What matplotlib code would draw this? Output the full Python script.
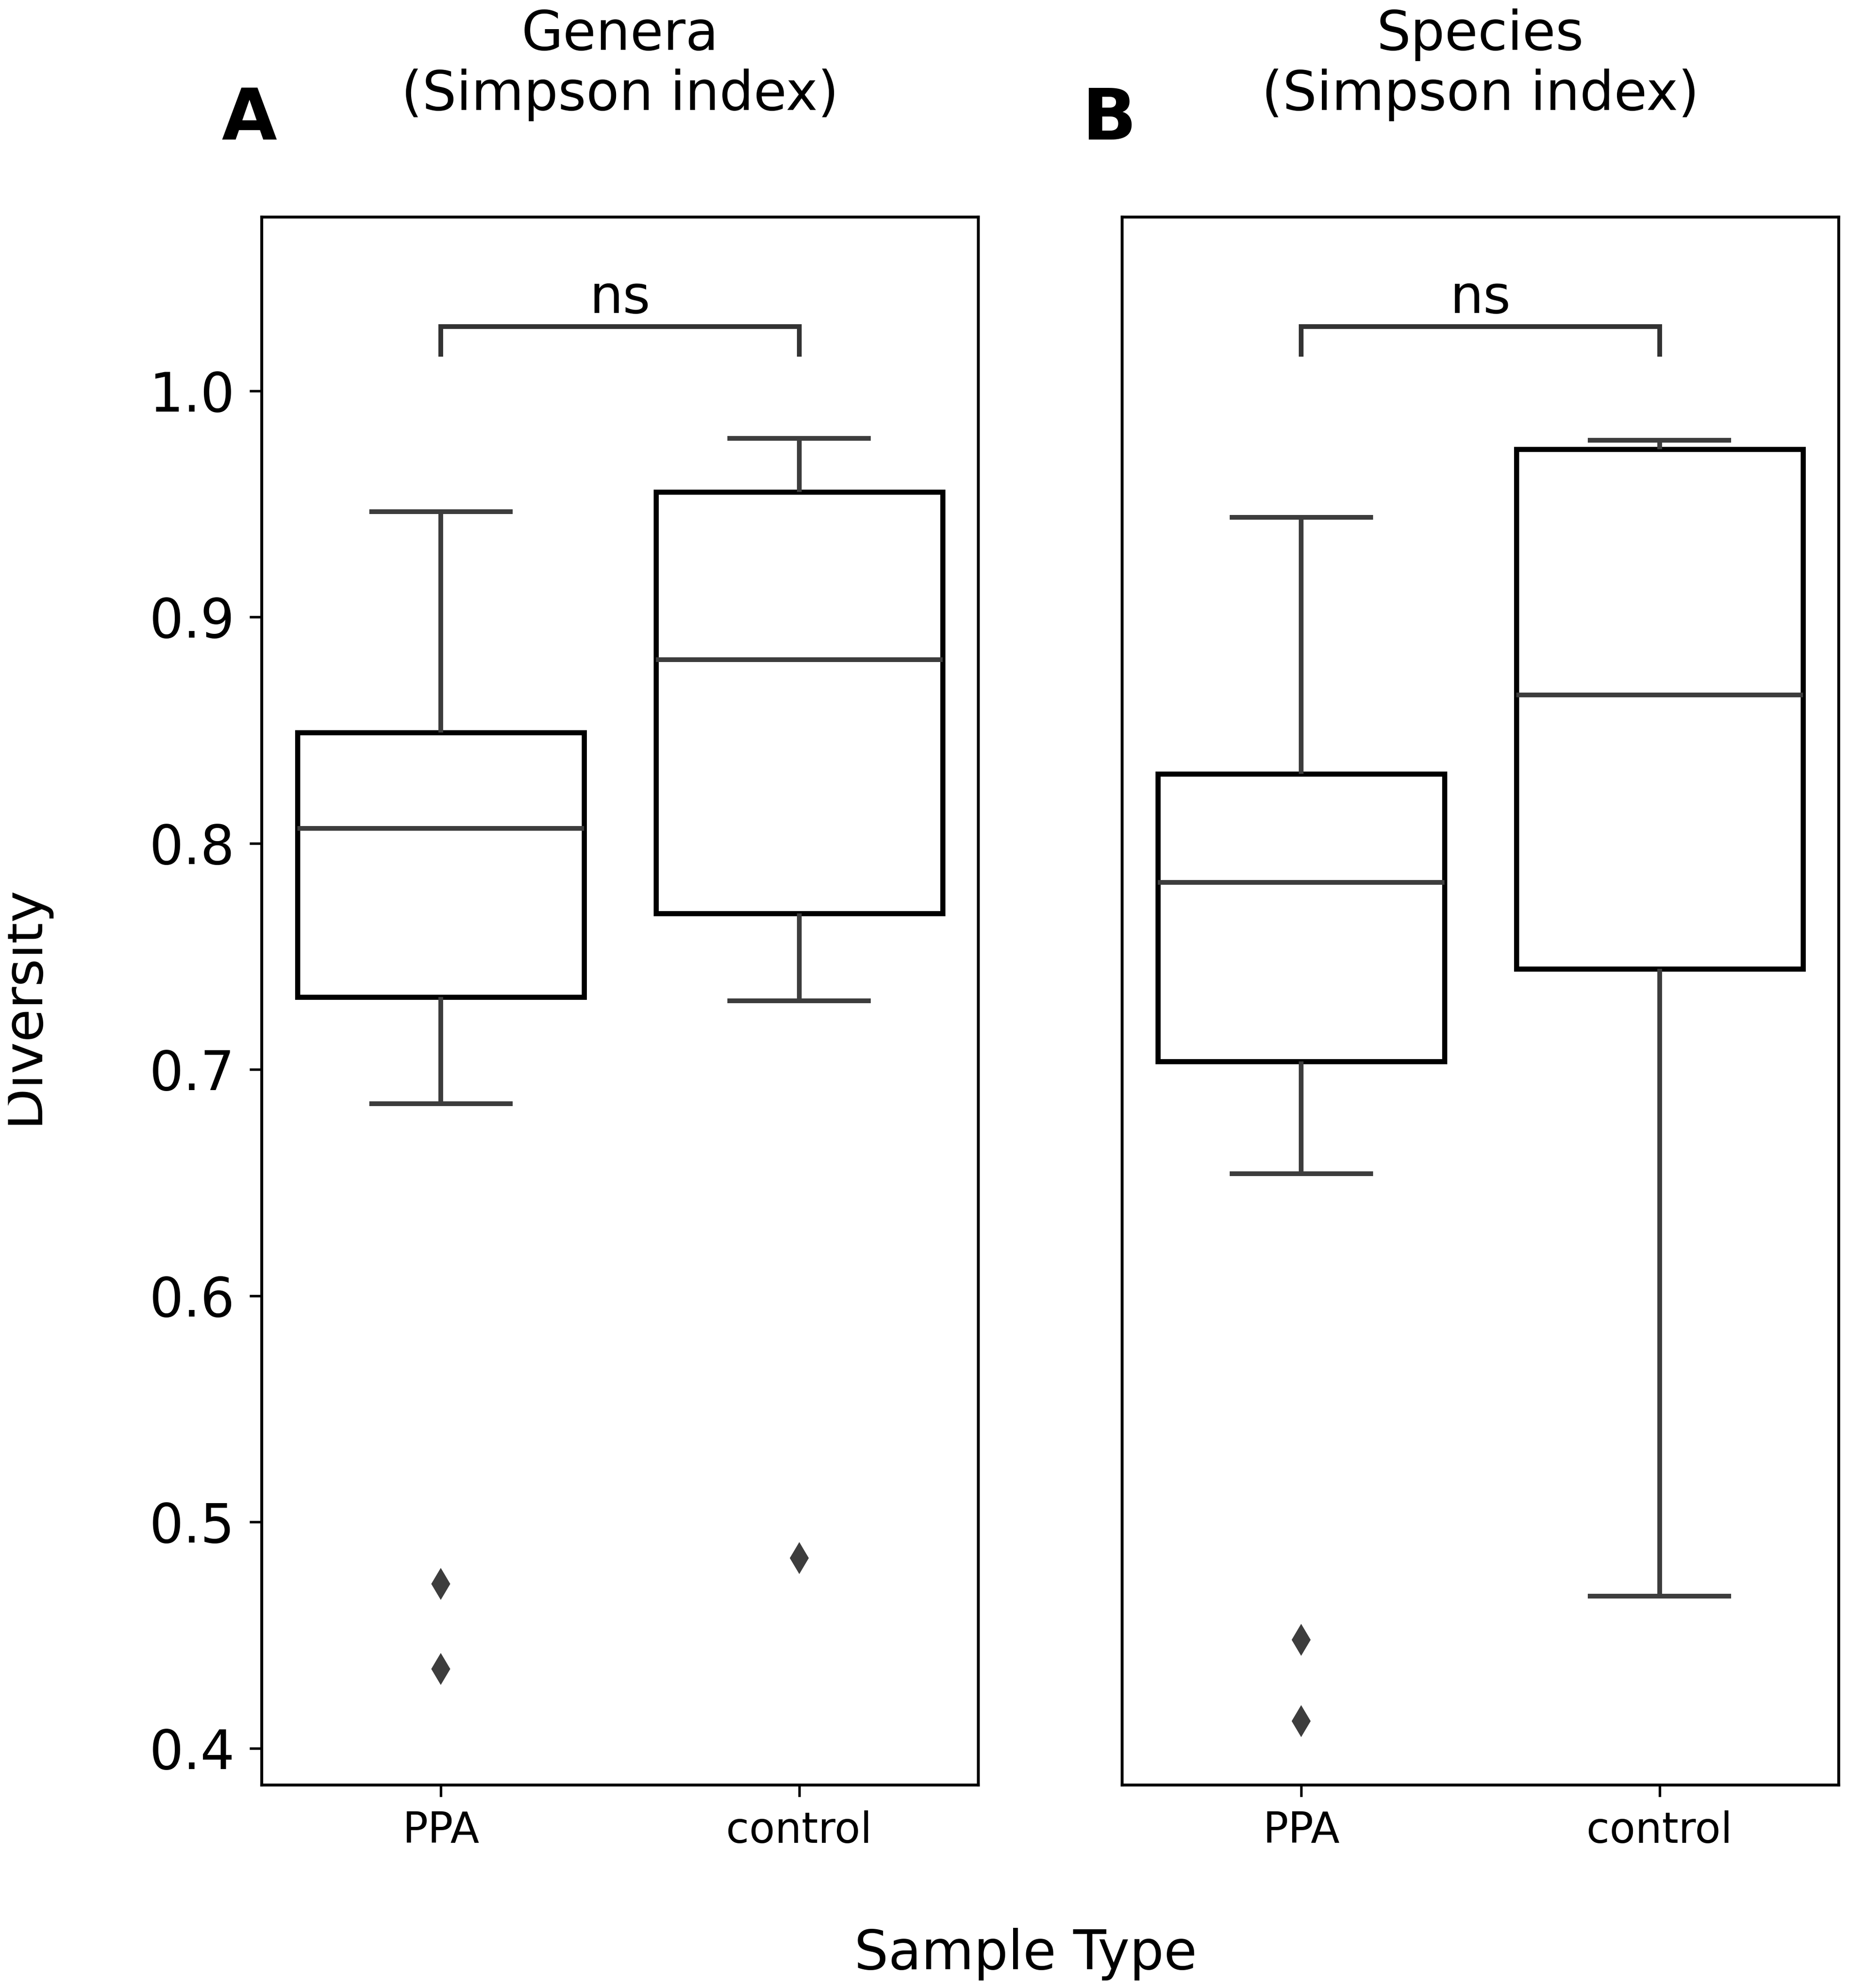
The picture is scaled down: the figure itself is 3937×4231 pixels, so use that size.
import matplotlib
matplotlib.use("Agg")
import matplotlib.pyplot as plt
from matplotlib.transforms import Bbox, TransformedBbox

# ---------------- data ----------------
groups = ["PPA", "control"]
panel_letters = ["A", "B"]
panel_titles = [["Genera", "(Simpson index)"], ["Species", "(Simpson index)"]]

genera_whislo = [0.685, 0.7305]
genera_q1 = [0.732, 0.769]
genera_med = [0.8067, 0.8811]
genera_q3 = [0.849, 0.9553]
genera_whishi = [0.9466, 0.979]
genera_fliers = [[0.4727, 0.4350], [0.4841]]

species_whislo = [0.6539, 0.4673]
species_q1 = [0.7036, 0.7445]
species_med = [0.7828, 0.8655]
species_q3 = [0.8308, 0.9743]
species_whishi = [0.9441, 0.9782]
species_fliers = [[0.448, 0.4121], []]

yticks = [0.4, 0.5, 0.6, 0.7, 0.8, 0.9, 1.0]
ytick_labels = ["0.4", "0.5", "0.6", "0.7", "0.8", "0.9", "1.0"]
sig_label = "ns"
bracket_top = 1.0285
bracket_bottom = 1.0152
sig_text_y = 1.0345
ylim = (0.3838, 1.0768)

xlabel = "Sample Type"
ylabel = "Diversity"

# ---------------- figure ----------------
W, H, DPI = 3937, 4231, 300
fig = plt.figure(figsize=(W / DPI, H / DPI), dpi=DPI)
fig.patch.set_facecolor("white")

def fx(px):
    return px / W

def fy(px):
    return 1 - px / H

ax_bottom = fy(3799)
ax_height = fy(462) - fy(3799)
ax_w = 1525 / W
axA = fig.add_axes([fx(557), ax_bottom, ax_w, ax_height])
axB = fig.add_axes([fx(2388), ax_bottom, ax_w, ax_height])

GRAY = "#3d3d3d"
BIG = 27.5

def make_stats(whislo, q1, med, q3, whishi, fliers):
    out = []
    for i in range(len(groups)):
        out.append(dict(whislo=whislo[i], q1=q1[i], med=med[i], q3=q3[i],
                        whishi=whishi[i], fliers=fliers[i], label=groups[i]))
    return out

panels = [
    (axA, make_stats(genera_whislo, genera_q1, genera_med, genera_q3, genera_whishi, genera_fliers)),
    (axB, make_stats(species_whislo, species_q1, species_med, species_q3, species_whishi, species_fliers)),
]

for k, (ax, stats) in enumerate(panels):
    positions = list(range(len(groups)))
    ax.bxp(stats, positions=positions, widths=0.8, capwidths=0.4,
           patch_artist=True, showfliers=True,
           boxprops=dict(facecolor="white", edgecolor="black", linewidth=2.6),
           whiskerprops=dict(color=GRAY, linewidth=2.4, solid_capstyle="butt"),
           capprops=dict(color=GRAY, linewidth=2.4, solid_capstyle="butt"),
           medianprops=dict(color=GRAY, linewidth=2.4, solid_capstyle="butt"),
           flierprops=dict(marker="d", markersize=11, markerfacecolor=GRAY,
                           markeredgecolor=GRAY, markeredgewidth=0.5, linestyle="none"))
    ax.set_xlim(-0.5, len(groups) - 0.5)
    ax.set_ylim(*ylim)
    ax.set_xticks(positions)
    ax.set_xticklabels(groups, fontsize=21.5)
    ax.tick_params(axis="x", length=6, width=1.3, pad=7, colors="black")
    if k == 0:
        ax.set_yticks(yticks)
        ax.set_yticklabels(ytick_labels, fontsize=BIG)
        ax.tick_params(axis="y", length=6.2, width=1.3, pad=7.5)
    else:
        ax.set_yticks([])
    for sp in ax.spines.values():
        sp.set_linewidth(1.5)
        sp.set_color("black")

    # significance bracket
    ax.plot([positions[0], positions[0], positions[1], positions[1]],
            [bracket_bottom, bracket_top, bracket_top, bracket_bottom],
            color="#333333", linewidth=2.4, solid_capstyle="butt",
            solid_joinstyle="miter", clip_on=False)
    ax.text((positions[0] + positions[1]) / 2, sig_text_y, sig_label,
            ha="center", va="baseline", fontsize=27)

    # titles (two lines) and panel letter
    bb = ax.get_position()
    cx = (bb.x0 + bb.x1) / 2
    fig.text(cx, fy(106), panel_titles[k][0], ha="center", va="baseline", fontsize=BIG)
    fig.text(cx, fy(234), panel_titles[k][1], ha="center", va="baseline", fontsize=BIG)
    fig.text(bb.x0 - fx(27), fy(297), panel_letters[k], ha="center", va="baseline",
             fontsize=36.5, fontweight="bold")

# axis labels
fig.text(fx(2183), fy(4191), xlabel, ha="center", va="baseline", fontsize=BIG)
yl = fig.text(fx(80), fy(2138), ylabel, rotation=90, rotation_mode="anchor",
              ha="center", va="baseline", fontsize=BIG)
yl.set_clip_box(TransformedBbox(Bbox([[fx(17), 0], [1, 1]]), fig.transFigure))
yl.set_clip_on(True)

fig.savefig("out.png", dpi=DPI, facecolor="white")
